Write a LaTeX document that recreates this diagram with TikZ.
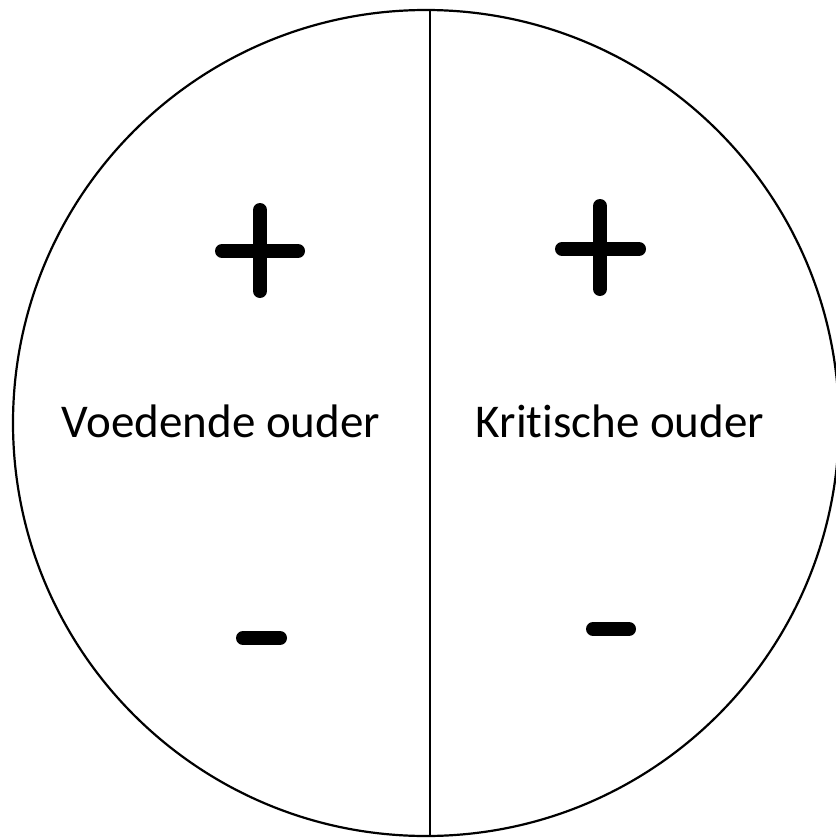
\documentclass[tikz,border=0pt]{standalone}
\usepackage{fontspec}
\setmainfont[Ligatures=NoCommon]{Carlito}
\begin{document}
\begin{tikzpicture}[x=1pt,y=-1pt,
  outline/.style={line width=2.2pt,draw=black},
  sign/.style={line width=14pt,line cap=round,draw=black},
  label/.style={font=\fontsize{47}{56}\selectfont,anchor=base,inner sep=0pt}]
\useasboundingbox (0,0) rectangle (835,840);
\node[circle,outline,minimum size=826pt,inner sep=0pt] (c) at (426,423) {};
\coordinate (top) at (430,10);
\coordinate (bot) at (430,837);
\draw[outline] (top) -- (bot);
\node[label] (l) at (221,437) {Voedende ouder};
\node[label] (r) at (620,437) {Kritische ouder};
% plus signs
\coordinate (p1h1) at (222,251); \coordinate (p1h2) at (298,251);
\coordinate (p1v1) at (260,210); \coordinate (p1v2) at (260,291);
\draw[sign] (p1h1) -- (p1h2);
\draw[sign] (p1v1) -- (p1v2);
\coordinate (p2h1) at (562,249); \coordinate (p2h2) at (639,249);
\coordinate (p2v1) at (600,206); \coordinate (p2v2) at (600,289);
\draw[sign] (p2h1) -- (p2h2);
\draw[sign] (p2v1) -- (p2v2);
% minus signs
\coordinate (m1a) at (243,638); \coordinate (m1b) at (280,638);
\draw[sign] (m1a) -- (m1b);
\coordinate (m2a) at (593,629); \coordinate (m2b) at (629,629);
\draw[sign] (m2a) -- (m2b);
\end{tikzpicture}
\end{document}
